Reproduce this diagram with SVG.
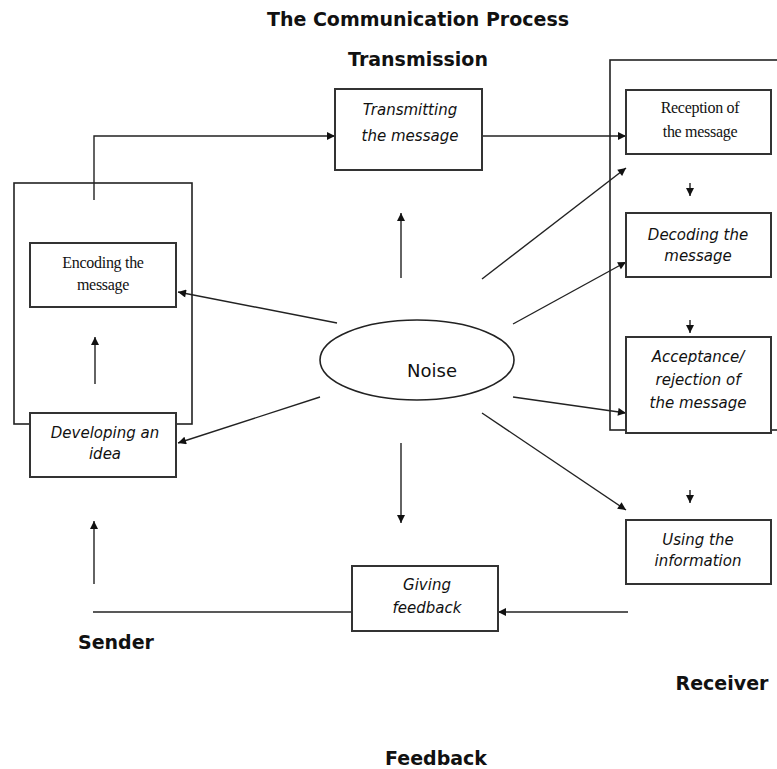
<svg xmlns="http://www.w3.org/2000/svg" width="777" height="769" viewBox="0 0 777 769">
<style>
.box{fill:#fff;stroke:#333;stroke-width:2}
.frame{fill:none;stroke:#222;stroke-width:1.6}
.con{fill:none;stroke:#222;stroke-width:1.4}
.lbl{font-family:"DejaVu Sans","Verdana",sans-serif;font-weight:bold;font-size:19px;fill:#111;text-anchor:middle}
.it{font-family:"DejaVu Sans","Verdana",sans-serif;font-style:italic;font-size:15px;fill:#111;text-anchor:middle}
.sf{font-family:"Liberation Serif","Times New Roman",serif;font-size:16px;fill:#111;text-anchor:middle;letter-spacing:-0.3px}
</style>
<defs>
<marker id="ah" viewBox="0 0 10 10" refX="10" refY="5" markerWidth="9" markerHeight="8" markerUnits="userSpaceOnUse" orient="auto">
<path d="M0,0 L10,5 L0,10 Z" fill="#111"/>
</marker>
</defs>
<rect width="777" height="769" fill="#fff"/>
<text class="lbl" x="418" y="26">The Communication Process</text>
<text class="lbl" x="418" y="66">Transmission</text>
<text class="lbl" x="116" y="649">Sender</text>
<text class="lbl" x="722" y="690">Receiver</text>
<text class="lbl" x="436" y="765">Feedback</text>

<g id="sender-frame"><rect class="frame" x="14" y="183" width="178" height="241"/></g>
<g id="receiver-frame"><rect class="frame" x="610" y="60" width="200" height="370"/></g>

<g id="connectors">
<polyline class="con" points="94,200 94,136 335,136" marker-end="url(#ah)"/>
<line class="con" x1="482" y1="136" x2="626" y2="136" marker-end="url(#ah)"/>
<line class="con" x1="95" y1="384" x2="95" y2="337" marker-end="url(#ah)"/>
<line class="con" x1="94" y1="584" x2="94" y2="521" marker-end="url(#ah)"/>
<line class="con" x1="628" y1="612" x2="498" y2="612" marker-end="url(#ah)"/>
<line class="con" x1="352" y1="612" x2="93" y2="612"/>
<line class="con" x1="690" y1="183" x2="690" y2="196" marker-end="url(#ah)"/>
<line class="con" x1="690" y1="320" x2="690" y2="333" marker-end="url(#ah)"/>
<line class="con" x1="690" y1="490" x2="690" y2="503" marker-end="url(#ah)"/>
<line class="con" x1="401" y1="278" x2="401" y2="213" marker-end="url(#ah)"/>
<line class="con" x1="401" y1="443" x2="401" y2="523" marker-end="url(#ah)"/>
<line class="con" x1="337" y1="323" x2="178" y2="292" marker-end="url(#ah)"/>
<line class="con" x1="320" y1="397" x2="178" y2="443" marker-end="url(#ah)"/>
<line class="con" x1="482" y1="279" x2="626" y2="168" marker-end="url(#ah)"/>
<line class="con" x1="513" y1="324" x2="626" y2="262" marker-end="url(#ah)"/>
<line class="con" x1="513" y1="397" x2="626" y2="413" marker-end="url(#ah)"/>
<line class="con" x1="482" y1="413" x2="626" y2="510" marker-end="url(#ah)"/>
</g>

<g id="noise">
<ellipse cx="417" cy="360" rx="97" ry="40" fill="#fff" stroke="#222" stroke-width="1.6"/>
<text x="432" y="377" font-family="DejaVu Sans, Verdana, sans-serif" font-size="18" fill="#111" text-anchor="middle">Noise</text>
</g>

<g id="transmitting">
<rect class="box" x="335" y="89" width="147" height="81"/>
<text class="it" x="410" y="115" font-size="17">Transmitting</text>
<text class="it" x="410" y="141" font-size="17">the message</text>
</g>

<g id="encoding">
<rect class="box" x="30" y="243" width="146" height="64"/>
<text class="sf" x="103" y="268">Encoding the</text>
<text class="sf" x="103" y="290">message</text>
</g>

<g id="developing">
<rect class="box" x="30" y="413" width="146" height="64"/>
<text class="it" x="105" y="438">Developing an</text>
<text class="it" x="105" y="459">idea</text>
</g>

<g id="reception">
<rect class="box" x="626" y="90" width="145" height="64"/>
<text class="sf" x="700" y="113">Reception of</text>
<text class="sf" x="700" y="137">the message</text>
</g>

<g id="decoding">
<rect class="box" x="626" y="213" width="145" height="64"/>
<text class="it" x="698" y="240">Decoding the</text>
<text class="it" x="698" y="261">message</text>
</g>

<g id="acceptance">
<rect class="box" x="626" y="337" width="145" height="96"/>
<text class="it" x="698" y="362">Acceptance/</text>
<text class="it" x="698" y="385">rejection of</text>
<text class="it" x="698" y="408">the message</text>
</g>

<g id="using">
<rect class="box" x="626" y="520" width="145" height="64"/>
<text class="it" x="698" y="545">Using the</text>
<text class="it" x="698" y="566">information</text>
</g>

<g id="giving">
<rect class="box" x="352" y="566" width="146" height="65"/>
<text class="it" x="427" y="590">Giving</text>
<text class="it" x="427" y="613">feedback</text>
</g>
</svg>
